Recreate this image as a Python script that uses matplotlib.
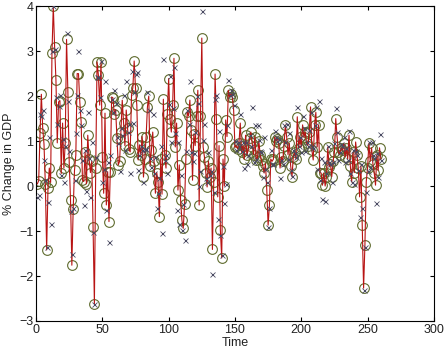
import numpy as np
import matplotlib
matplotlib.use("Agg")
import matplotlib.pyplot as plt

plt.rcParams['font.family'] = ['Liberation Sans Narrow', 'Liberation Sans', 'DejaVu Sans']

# quarterly growth (circles + red line)
gdp_fit = [
    0.05, 0.12, 1.17,
    2.04, 1.30, 0.93, 0.05,
    -1.42, -0.05, 0.40, 0.08,
    2.95, 4.00, 3.10, 2.36,
    0.96, 1.87, 1.90, 0.28,
    1.40, 0.40, 0.95, 3.26,
    2.10, 0.54, -0.31, -1.76,
    -0.52, 0.35, 0.69, 2.50,
    2.50, 1.87, 1.43, 0.13,
    0.10, 0.75, 0.05, 1.13,
    0.60, 0.30, 0.55, -0.92,
    -2.62, 0.40, 2.76, 2.47,
    1.80, 2.76, 0.64, -0.16,
    1.62, -0.42, 0.32, -0.79,
    0.32, 1.98, 1.96, 1.60,
    1.70, 1.06, 0.47, 0.55,
    1.20, 1.91, 1.40, 0.90,
    1.69, 1.30, 0.82, 0.76,
    2.02, 2.19, 2.78, 2.17,
    1.80, 0.58, 0.91, 0.70,
    1.10, 0.20, 0.60, 1.10,
    1.76, 2.00, 0.45, 0.80,
    1.20, 0.55, -0.16, 0.30,
    0.10, -0.68, 0.60, -0.18,
    1.93, 0.70, 0.40, 1.61,
    2.39, 1.50, 1.20, 1.80,
    2.84, 0.87, 1.40, -0.09,
    0.47, -0.31, -0.76, -0.94,
    -0.40, 0.60, 1.65, 1.56,
    1.91, 1.24, 0.13, 1.16,
    0.90, 1.56, 2.13, -0.42,
    1.56, 3.29, 0.87, 0.64,
    0.30, -0.02, 0.55, 0.20,
    0.40, -1.41, 0.10, 2.49,
    1.50, -0.24, 0.90, -0.98,
    -1.60, 0.60, 0.00, 1.47,
    1.10, 2.13, 1.98, 2.05,
    1.98, 1.69, 0.86, 0.90,
    0.83, 0.95, 1.40, 0.75,
    0.90, 0.60, 1.13, 0.69,
    0.80, 1.06, 1.20, 0.96,
    0.70, 1.10, 0.58, 0.64,
    1.00, 0.70, 0.58, 0.45,
    0.29, 0.50, -0.09, -0.87,
    -0.42, 0.60, 0.55, 0.60,
    1.09, 1.00, 1.05, 0.95,
    0.40, 0.65, 0.55, 0.90,
    1.36, 1.09, 0.70, 0.95,
    0.45, 0.21, 0.65, 0.75,
    0.60, 1.54, 0.85, 1.09,
    0.87, 1.36, 1.09, 1.20,
    0.95, 0.90, 1.20, 1.76,
    0.80, 0.58, 1.36, 1.64,
    0.87, 1.36, 0.30, 0.29,
    0.02, 0.29, 0.00, 0.21,
    0.87, 0.43, 0.50, 0.21,
    0.55, 0.76, 1.50, 1.10,
    0.76, 0.70, 0.85, 0.80,
    0.95, 0.65, 0.85, 0.60,
    1.13, 0.45, 0.09, 0.75,
    0.30, 0.98, 0.70, 0.40,
    -0.24, 0.45, -0.87, -2.27,
    -1.31, 0.10, 0.40, 0.95,
    0.55, 0.85, 0.50, 0.30,
    0.02, 0.70, 0.35, 0.85,
    0.60,
]

# the 'x' markers
gdp_actual = [
    -0.25, -0.20, 1.60,
    1.55, 1.70, 0.58, 0.13,
    -1.35, -0.35, 1.08, -0.85,
    3.00, 4.00, 3.05, 1.97,
    1.38, 1.78, 2.03, 0.25,
    1.05, 0.08, 0.88, 3.40,
    1.90, 0.78, -0.55, -1.50,
    -0.48, 0.13, 1.18, 2.03,
    3.00, 1.70, 1.35, 0.58,
    -0.43, 0.80, -0.10, 1.65,
    0.63, -0.25, 0.98, -1.03,
    -2.62, 0.65, 2.43, 2.43,
    1.98, 2.78, 0.08, 0.38,
    2.33, -0.53, 0.53, -1.25,
    0.68, 1.93, 1.65, 2.13,
    1.85, 1.10, 0.95, 0.33,
    1.30, 1.13, 2.03, 0.80,
    2.33, 1.20, 1.38, 0.30,
    2.55, 1.40, 2.10, 2.50,
    2.53, 0.35, 0.70, 0.90,
    0.80, 0.10, 0.83, 0.83,
    2.10, 1.70, 0.63, 0.43,
    1.60, 0.28, 0.65, -0.48,
    -0.15, 0.18, 0.90, -1.05,
    2.83, 0.58, 0.70, 0.28,
    1.83, 2.45, 0.98, 1.73,
    2.65, 1.18, -0.53, 0.98,
    -0.85, 0.25, -0.98, -0.40,
    -1.20, 0.78, 1.70, 1.38,
    2.33, 0.75, 0.55, 0.73,
    1.20, 2.00, 1.85, 0.00,
    0.33, 3.90, 1.03, 1.38,
    0.18, 0.10, 0.75, 0.25,
    0.33, -1.96, -0.13, 1.93,
    2.03, -0.73, 1.23, -1.08,
    -1.53, 0.45, -0.38, 0.05,
    1.35, 2.35, 2.03, 2.13,
    2.05, 1.80, 1.00, 0.80,
    0.98, 0.90, 1.60, 0.78,
    0.98, 0.40, 0.98, 0.50,
    0.68, 1.13, 0.88, 1.75,
    0.53, 1.35, 0.60, 1.35,
    1.03, 0.78, 0.75, 0.20,
    1.10, 0.38, 0.08, -0.90,
    -0.48, 0.80, 0.50, 0.48,
    1.23, 1.10, 1.00, 1.05,
    0.18, 0.58, 0.48, 1.35,
    0.98, 1.38, 0.60, 1.18,
    0.35, 0.23, 0.80, 0.73,
    0.65, 1.75, 0.90, 1.10,
    0.75, 1.55, 1.28, 0.78,
    0.98, 0.90, 1.25, 1.65,
    0.88, 0.85, 1.35, 1.75,
    0.38, 1.88, 0.13, 0.63,
    -0.28, 0.53, -0.33, 0.28,
    0.88, 0.53, 0.50, 0.08,
    0.53, 0.95, 1.73, 1.20,
    0.58, 0.75, 0.93, 0.88,
    1.08, 0.53, 0.85, 0.58,
    1.23, 0.30, 0.10, 0.80,
    0.05, 0.78, 0.68, 0.35,
    -0.68, 0.50, -0.48, -2.30,
    -1.35, -0.13, 0.33, 0.98,
    0.43, 0.98, 0.68, 0.63,
    -0.38, 0.73, 0.20, 1.15,
    0.58,
]

t = np.arange(1, len(gdp_fit) + 1)

fig = plt.figure(figsize=(4.45, 3.51), dpi=100)
ax = fig.add_axes([0.081, 0.0855, 0.894, 0.897])

ax.plot(t, gdp_fit, 'o', mfc='none', mec='#5f6b2e', ms=7, mew=0.8, zorder=2)
ax.plot(t, gdp_fit, '-', color='#b81414', lw=0.8, zorder=3)
ax.plot(t, gdp_actual, 'x', color='#4a4a62', ms=3.6, mew=0.6, zorder=4)

ax.set_xlim(0, 300)
ax.set_ylim(-3, 4)
ax.set_xticks(np.arange(0, 301, 50))
ax.set_yticks(np.arange(-3, 5, 1))
ax.tick_params(direction='in', length=3, top=True, right=True, labelsize=9,
               pad=2, labelcolor='#222222')
for s in ax.spines.values():
    s.set_linewidth(0.8)

ax.set_xlabel('Time', fontsize=9, labelpad=1, color='#222222')
ax.set_ylabel('% Change in GDP', fontsize=9, labelpad=3, color='#222222')

fig.savefig('out.png', dpi=100)
